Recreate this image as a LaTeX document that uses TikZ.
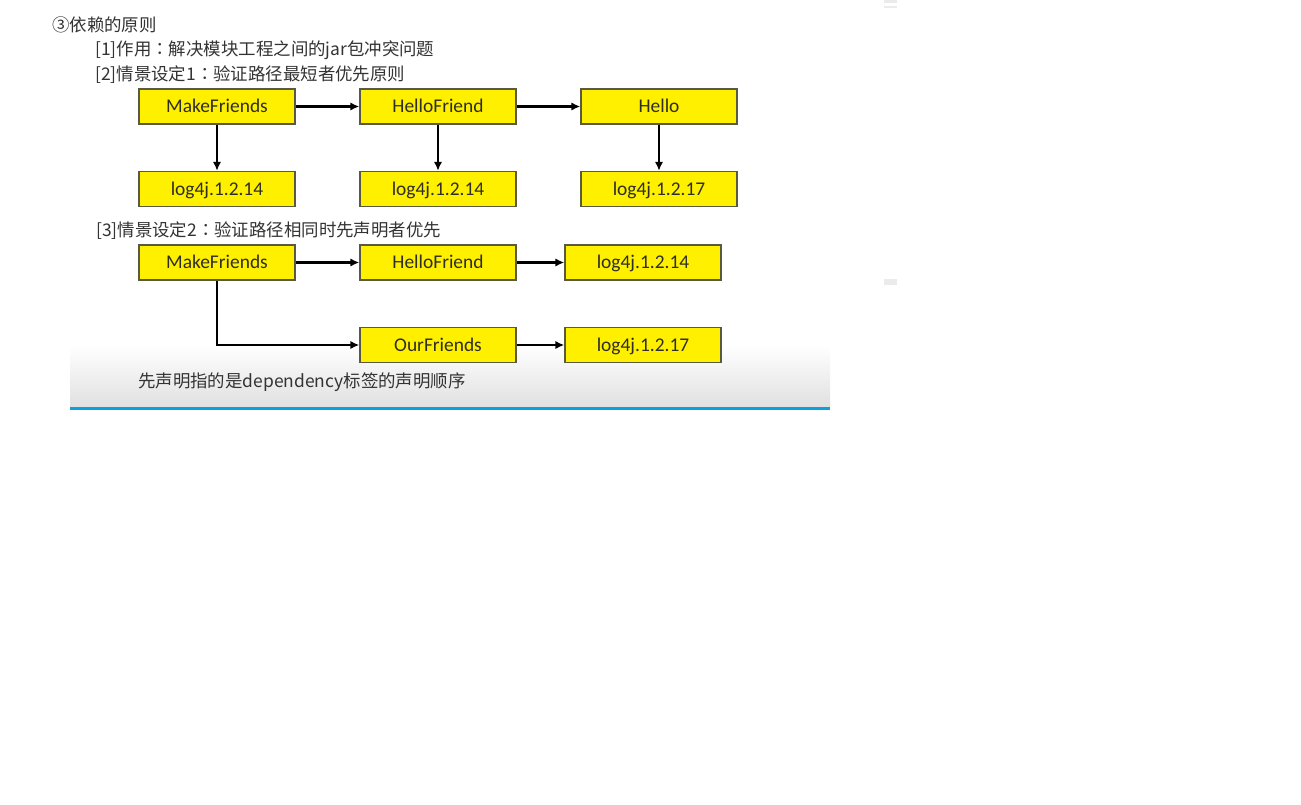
\documentclass[tikz,border=0pt]{standalone}
\usepackage{fontspec}
\setmainfont{Carlito}
\newfontfamily\cjk{Noto Sans CJK SC}
\newfontfamily\cjkjp{Noto Sans CJK JP}
\usetikzlibrary{arrows.meta}
\definecolor{boxyellow}{HTML}{FFF000}
\definecolor{boxedge}{HTML}{5A5A40}
\definecolor{txtdark}{HTML}{2E2E26}
\definecolor{cjkgray}{HTML}{333333}
\definecolor{bluebar}{HTML}{0AA2DC}
\newcommand{\fwc}{{\cjkjp ：}}
\tikzset{
  depbox/.style={draw=boxedge, fill=boxyellow, line width=1.5bp, minimum width=156bp, minimum height=35bp, inner sep=0pt, text height=16.6bp, text depth=4bp, text=txtdark, font=\fontsize{19.5}{20}\selectfont},
  cjktext/.style={anchor=west, inner sep=0pt, text=cjkgray, font=\cjk\fontsize{17.5}{18}\selectfont},
  deparrow/.style={line width=2.6bp, draw=black, -{Latex[length=9bp,width=8.5bp]}},
}
\begin{document}
\begin{tikzpicture}[x=1bp,y=-1bp]
\useasboundingbox (0,0) rectangle (1301,804);
\fill[white] (0,0) rectangle (1301,804);
% panel shading
\shade[top color=white, bottom color=black!12] (70,345) rectangle (830,407);
\fill[bluebar] (70,407) rectangle (830,410);
% small marks at the right
\fill[black!8] (884,0) rectangle (897,3);
\fill[black!8] (884,6) rectangle (897,8);
\fill[black!8] (884,279) rectangle (897,285);
% texts
\node[cjktext] (t0) at (52,25) {③依赖的原则};
\node[cjktext] (t1) at (95,50) {[1]作用\fwc 解决模块工程之间的jar包冲突问题};
\node[cjktext] (t2) at (95,75) {[2]情景设定1\fwc 验证路径最短者优先原则};
\node[cjktext] (t3) at (96,231) {[3]情景设定2\fwc 验证路径相同时先声明者优先};
\node[cjktext] (t4) at (138,382) {先声明指的是dependency标签的声明顺序};
% scenario 1
\node[depbox] (mf1) at (217,106.5) {MakeFriends};
\node[depbox] (hf1) at (438,106.5) {HelloFriend};
\node[depbox] (h1)  at (659,106.5) {Hello};
\node[depbox] (la) at (217,189) {log4j.1.2.14};
\node[depbox] (lb) at (438,189) {log4j.1.2.14};
\node[depbox] (lc) at (659,189) {log4j.1.2.17};
\draw[deparrow] (mf1) -- (hf1);
\draw[deparrow] (hf1) -- (h1);
\draw[deparrow] (mf1) -- (la);
\draw[deparrow] (hf1) -- (lb);
\draw[deparrow] (h1) -- (lc);
% scenario 2
\node[depbox] (mf2) at (217,262.5) {MakeFriends};
\node[depbox] (hf2) at (438,262.5) {HelloFriend};
\node[depbox] (l14) at (643,262.5) {log4j.1.2.14};
\node[depbox] (of)  at (438,345) {OurFriends};
\node[depbox] (l17) at (643,345) {log4j.1.2.17};
\draw[deparrow] (mf2) -- (hf2);
\draw[deparrow] (hf2) -- (l14);
\draw[deparrow] (of) -- (l17);
\draw[deparrow] (mf2.south) |- (of.west);
\end{tikzpicture}
\end{document}
